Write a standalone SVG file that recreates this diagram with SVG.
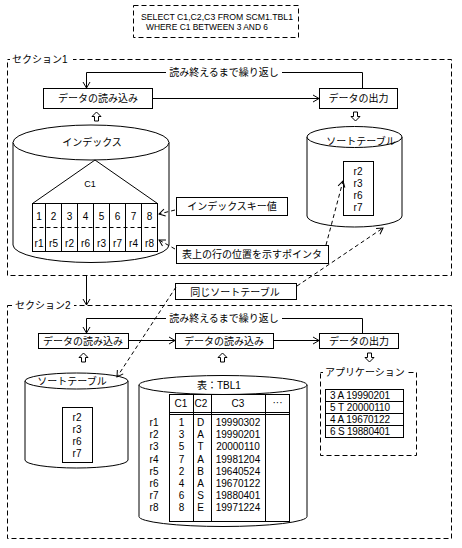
<svg xmlns="http://www.w3.org/2000/svg" width="462" height="548" viewBox="0 0 462 548">
<style>
text { font-family: "Liberation Sans", "Noto Sans CJK JP", sans-serif; font-size: 10px; fill: #000; }
.lt { font-size: 9px; }
.m { text-anchor: middle; }
.box { fill: #fff; stroke: #000; stroke-width: 1; }
.nf { fill: none; stroke: #000; stroke-width: 1; }
.dash { fill: none; stroke: #000; stroke-width: 1; stroke-dasharray: 5 3; }
.dl { fill: none; stroke: #000; stroke-width: 1; stroke-dasharray: 4 3; }
.ln { fill: none; stroke: #000; stroke-width: 1; }
.hollow { fill: #fff; stroke: #000; stroke-width: 1; }
.bg { fill: #fff; }
</style>
<defs>
<marker id="ah" markerUnits="userSpaceOnUse" markerWidth="10" markerHeight="10" refX="8" refY="5" orient="auto">
<path d="M2,1.5 L8,5 L2,8.5" fill="none" stroke="#000" stroke-width="1"/>
</marker>
<path id="up" d="M0,0 L4.5,4.5 L2,4.5 L2,9 L-2,9 L-2,4.5 L-4.5,4.5 Z"/>
<path id="dn" d="M0,9 L4.5,4.5 L2,4.5 L2,0 L-2,0 L-2,4.5 L-4.5,4.5 Z"/>
</defs>
<rect width="462" height="548" fill="#fff"/>

<g id="sql">
<rect x="133.5" y="5.5" width="165" height="32" class="dash"/>
<text class="lt" x="141" y="19.5" textLength="152" lengthAdjust="spacingAndGlyphs">SELECT C1,C2,C3 FROM SCM1.TBL1</text>
<text class="lt" x="146" y="30" textLength="122" lengthAdjust="spacingAndGlyphs">WHERE C1 BETWEEN 3 AND 6</text>
</g>

<g id="section1">
<rect x="7.5" y="59.5" width="444" height="216" class="dash"/>
<rect x="10" y="52" width="63" height="14" class="bg"/>
<text x="12" y="62.5">セクション1</text>
</g>

<g id="section2">
<rect x="7.5" y="305.5" width="444" height="233" class="dash"/>
<rect x="12" y="298" width="62" height="14" class="bg"/>
<text x="15" y="309">セクション2</text>
</g>

<g id="s1-read">
<rect x="43.5" y="88.5" width="109" height="20" class="box"/>
<text class="m" x="98" y="102">データの読み込み</text>
</g>
<g id="s1-output">
<rect x="319.5" y="88.5" width="78" height="20" class="box"/>
<text class="m" x="358.5" y="102">データの出力</text>
</g>

<g id="index">
<path d="M13,142.5 L13,245 A78,17.5 0 0 0 169,245 L169,142.5" class="box"/>
<ellipse cx="91" cy="142.5" rx="78" ry="17.5" class="box"/>
<text class="m" x="92" y="146">インデックス</text>
<polygon points="95,160 32.5,203.5 157.5,203.5" class="nf"/>
<text class="lt m" x="90" y="187">C1</text>
<rect x="32.5" y="203.5" width="125" height="48" class="box"/>
<path d="M45.5,203.5V251.5M61.5,203.5V251.5M77.5,203.5V251.5M93.5,203.5V251.5M109.5,203.5V251.5M125.5,203.5V251.5M141.5,203.5V251.5" class="ln"/>
<line x1="32.5" y1="227.5" x2="157.5" y2="227.5" class="dl"/>
<g class="lt">
<text class="m" x="39" y="219.5">1</text>
<text class="m" x="53.5" y="219.5">2</text>
<text class="m" x="69.5" y="219.5">3</text>
<text class="m" x="85.5" y="219.5">4</text>
<text class="m" x="101.5" y="219.5">5</text>
<text class="m" x="117.5" y="219.5">6</text>
<text class="m" x="133.5" y="219.5">7</text>
<text class="m" x="149.5" y="219.5">8</text>
<text class="m" x="39" y="246.5">r1</text>
<text class="m" x="53.5" y="246.5">r5</text>
<text class="m" x="69.5" y="246.5">r2</text>
<text class="m" x="85.5" y="246.5">r6</text>
<text class="m" x="101.5" y="246.5">r3</text>
<text class="m" x="117.5" y="246.5">r7</text>
<text class="m" x="133.5" y="246.5">r4</text>
<text class="m" x="149.5" y="246.5">r8</text>
</g>
</g>

<g id="s1-sorttable">
<path d="M307,137 L307,216 A47.5,11 0 0 0 402,216 L402,137" class="box"/>
<ellipse cx="354.5" cy="137" rx="47.5" ry="10.5" class="box"/>
<text class="m" x="361" y="144.5">ソートテーブル</text>
<rect x="343.5" y="161.5" width="30" height="54" class="box"/>
<g class="lt">
<text class="m" x="358" y="175">r2</text>
<text class="m" x="358" y="187">r3</text>
<text class="m" x="358" y="199">r6</text>
<text class="m" x="358" y="211">r7</text>
</g>
</g>

<g id="keylabel">
<rect x="176.5" y="197.5" width="111" height="18" class="box"/>
<text class="m" x="232" y="210">インデックスキー値</text>
</g>
<g id="ptrlabel">
<rect x="176.5" y="245.5" width="152" height="18" class="box"/>
<text class="m" x="252" y="258">表上の行の位置を示すポインタ</text>
</g>
<g id="samesort">
<rect x="175.5" y="283.5" width="121" height="16" class="box"/>
<text class="m" x="235" y="295.5">同じソートテーブル</text>
</g>

<g id="s2-readA">
<rect x="38.5" y="333.5" width="90" height="15" class="box"/>
<text class="m" x="83" y="344.5">データの読み込み</text>
</g>
<g id="s2-readB">
<rect x="175.5" y="333.5" width="98" height="15" class="box"/>
<text class="m" x="224" y="344.5">データの読み込み</text>
</g>
<g id="s2-output">
<rect x="319.5" y="333.5" width="79" height="15" class="box"/>
<text class="m" x="359" y="344.5">データの出力</text>
</g>

<g id="s2-sorttable">
<path d="M25,381 L25,460 A51.5,8 0 0 0 128,460 L128,381" class="box"/>
<ellipse cx="76.5" cy="381" rx="51.5" ry="8" class="box"/>
<text class="m" x="72" y="384.5">ソートテーブル</text>
<rect x="62.5" y="407.5" width="30" height="55" class="box"/>
<g class="lt">
<text class="m" x="77" y="420.5">r2</text>
<text class="m" x="77" y="432.5">r3</text>
<text class="m" x="77" y="444.5">r6</text>
<text class="m" x="77" y="456.5">r7</text>
</g>
</g>

<g id="tbl1">
<path d="M139,385 L139,516.5 A84,10 0 0 0 307,516.5 L307,385" class="box"/>
<ellipse cx="223" cy="385" rx="84" ry="9.5" class="box"/>
<text x="197" y="388.5">表：TBL1</text>
<rect x="169.5" y="394.5" width="120" height="127" class="box"/>
<path d="M193.5,394.5V521.5M211.5,394.5V521.5M265.5,394.5V521.5M169.5,412.5H289.5M169.5,414.5H289.5" class="ln"/>
<g class="lt">
<text class="m" x="181" y="406.5">C1</text>
<text class="m" x="201" y="406.5">C2</text>
<text class="m" x="238" y="406.5">C3</text>
<text class="m" x="277.5" y="405.5">···</text>
<text class="m" x="154" y="426">r1</text>
<text class="m" x="154" y="438.2">r2</text>
<text class="m" x="154" y="450.3">r3</text>
<text class="m" x="154" y="462.5">r4</text>
<text class="m" x="154" y="474.6">r5</text>
<text class="m" x="154" y="486.8">r6</text>
<text class="m" x="154" y="498.9">r7</text>
<text class="m" x="154" y="511">r8</text>
<text class="m" x="181.5" y="426">1</text>
<text class="m" x="181.5" y="438.2">3</text>
<text class="m" x="181.5" y="450.3">5</text>
<text class="m" x="181.5" y="462.5">7</text>
<text class="m" x="181.5" y="474.6">2</text>
<text class="m" x="181.5" y="486.8">4</text>
<text class="m" x="181.5" y="498.9">6</text>
<text class="m" x="181.5" y="511">8</text>
<text class="m" x="200.5" y="426">D</text>
<text class="m" x="200.5" y="438.2">A</text>
<text class="m" x="200.5" y="450.3">T</text>
<text class="m" x="200.5" y="462.5">A</text>
<text class="m" x="200.5" y="474.6">B</text>
<text class="m" x="200.5" y="486.8">A</text>
<text class="m" x="200.5" y="498.9">S</text>
<text class="m" x="200.5" y="511">E</text>
<text class="m" x="238" y="426">19990302</text>
<text class="m" x="238" y="438.2">19990201</text>
<text class="m" x="238" y="450.3">20000110</text>
<text class="m" x="238" y="462.5">19981204</text>
<text class="m" x="238" y="474.6">19640524</text>
<text class="m" x="238" y="486.8">19670122</text>
<text class="m" x="238" y="498.9">19880401</text>
<text class="m" x="238" y="511">19971224</text>
</g>
</g>

<g id="application">
<rect x="320.5" y="372.5" width="96" height="83" class="dash"/>
<rect x="323" y="365" width="83" height="14" class="bg"/>
<text x="325" y="375.5">アプリケーション</text>
<rect x="325.5" y="389.5" width="78" height="48" class="box"/>
<path d="M325.5,401.5H403.5M325.5,413.5H403.5M325.5,425.5H403.5" class="ln"/>
<g class="lt">
<text x="330" y="398.8" textLength="60" lengthAdjust="spacing">3 A 19990201</text>
<text x="330" y="410.8" textLength="60" lengthAdjust="spacing">5 T 20000110</text>
<text x="330" y="422.8" textLength="60" lengthAdjust="spacing">4 A 19670122</text>
<text x="330" y="434.8" textLength="60" lengthAdjust="spacing">6 S 19880401</text>
</g>
</g>

<g id="connectors">
<path d="M362.5,88 V72.5 H86.5 V88" class="ln" marker-end="url(#ah)"/>
<rect x="166" y="66" width="116" height="13" class="bg"/>
<text class="m" x="224" y="75.5">読み終えるまで繰り返し</text>
<path d="M152.5,98.5 H319" class="ln" marker-end="url(#ah)"/>
<use href="#up" x="96.5" y="112" class="hollow"/>
<use href="#dn" x="355.5" y="112" class="hollow"/>
<path d="M175,210 L159,214" class="dl" marker-end="url(#ah)"/>
<path d="M175,249 L159,240" class="dl" marker-end="url(#ah)"/>
<path d="M326,245 L343,181" class="dl" marker-end="url(#ah)"/>
<path d="M297,286 L383,228" class="dl" marker-end="url(#ah)"/>
<path d="M176,287 L117,377" class="dl" marker-end="url(#ah)"/>
<path d="M86.5,276 V305" class="ln" marker-end="url(#ah)"/>
<path d="M362.5,333 V318.5 H86.5 V333" class="ln" marker-end="url(#ah)"/>
<rect x="166" y="312" width="116" height="13" class="bg"/>
<text class="m" x="224" y="322">読み終えるまで繰り返し</text>
<path d="M128.5,340.5 H175" class="ln" marker-end="url(#ah)"/>
<path d="M273.5,340.5 H319" class="ln" marker-end="url(#ah)"/>
<use href="#up" x="83.5" y="353" class="hollow"/>
<use href="#up" x="222.5" y="353" class="hollow"/>
<use href="#dn" x="369.5" y="353" class="hollow"/>
</g>
</svg>
